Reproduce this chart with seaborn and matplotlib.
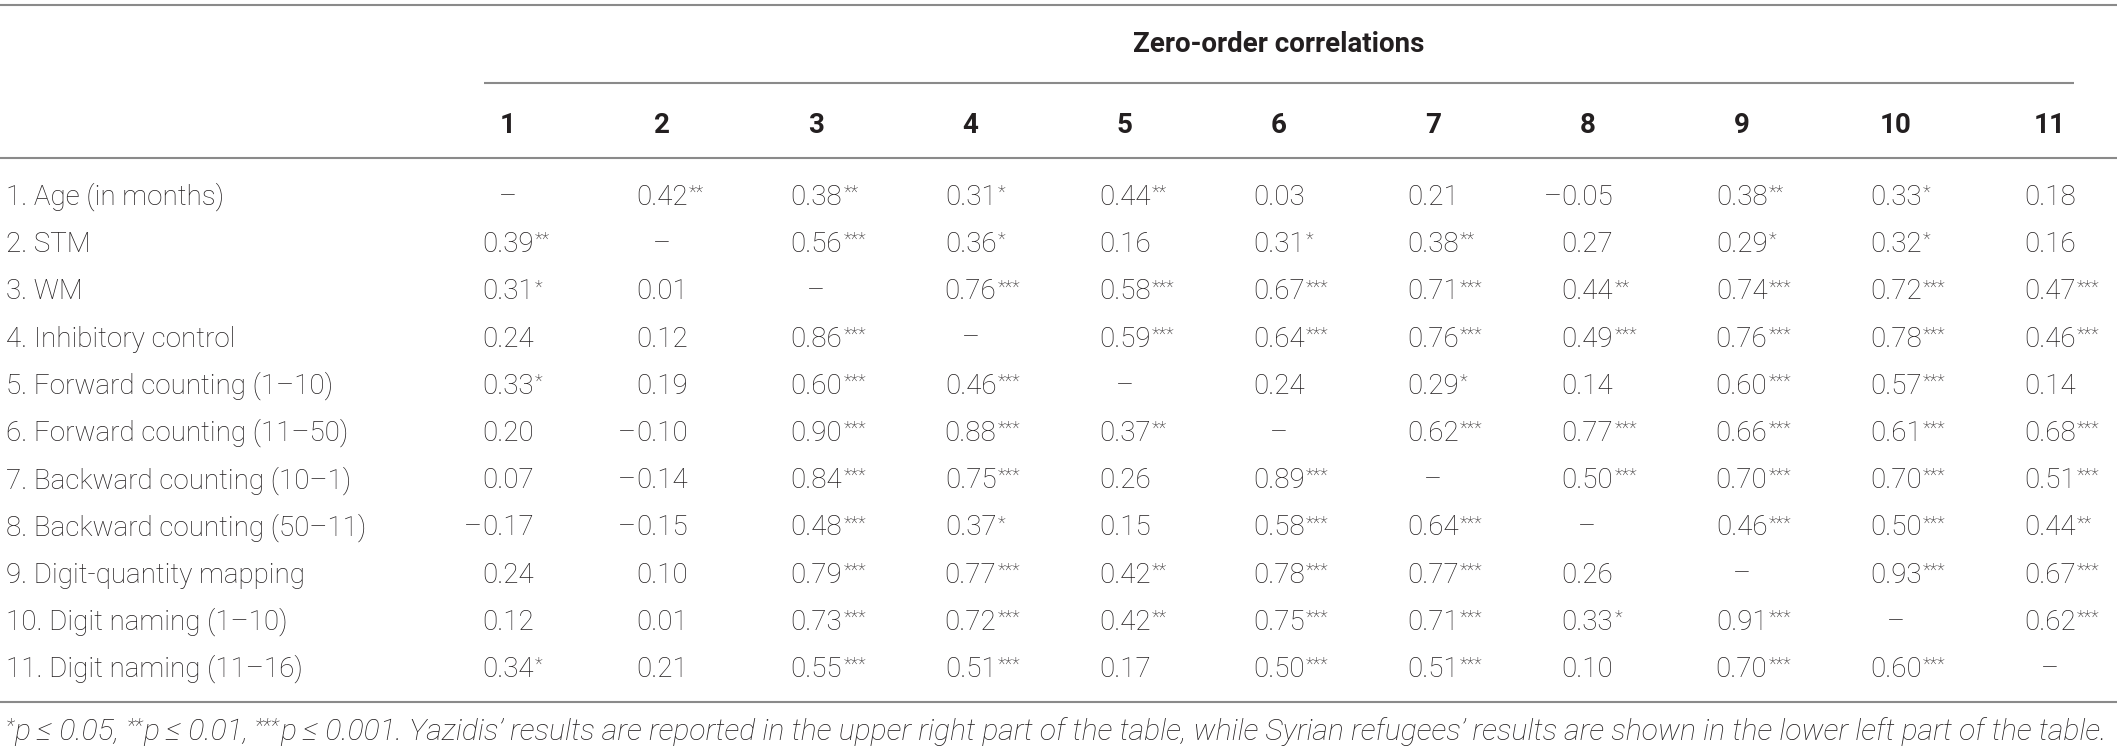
import matplotlib
matplotlib.use("Agg")
import matplotlib.pyplot as plt
import seaborn as sns

# Datos de la tabla: correlaciones de orden cero
row_labels = [
    "1. Age (in months)",
    "2. STM",
    "3. WM",
    "4. Inhibitory control",
    "5. Forward counting (1–10)",
    "6. Forward counting (11–50)",
    "7. Backward counting (10–1)",
    "8. Backward counting (50–11)",
    "9. Digit-quantity mapping",
    "10. Digit naming (1–10)",
    "11. Digit naming (11–16)",
]
col_labels = [str(i) for i in range(1, 12)]
header_title = "Zero-order correlations"

r_values = [
    [None, 0.42, 0.38, 0.31, 0.44, 0.03, 0.21, -0.05, 0.38, 0.33, 0.18],
    [0.39, None, 0.56, 0.36, 0.16, 0.31, 0.38, 0.27, 0.29, 0.32, 0.16],
    [0.31, 0.01, None, 0.76, 0.58, 0.67, 0.71, 0.44, 0.74, 0.72, 0.47],
    [0.24, 0.12, 0.86, None, 0.59, 0.64, 0.76, 0.49, 0.76, 0.78, 0.46],
    [0.33, 0.19, 0.60, 0.46, None, 0.24, 0.29, 0.14, 0.60, 0.57, 0.14],
    [0.20, -0.10, 0.90, 0.88, 0.37, None, 0.62, 0.77, 0.66, 0.61, 0.68],
    [0.07, -0.14, 0.84, 0.75, 0.26, 0.89, None, 0.50, 0.70, 0.70, 0.51],
    [-0.17, -0.15, 0.48, 0.37, 0.15, 0.58, 0.64, None, 0.46, 0.50, 0.44],
    [0.24, 0.10, 0.79, 0.77, 0.42, 0.78, 0.77, 0.26, None, 0.93, 0.67],
    [0.12, 0.01, 0.73, 0.72, 0.42, 0.75, 0.71, 0.33, 0.91, None, 0.62],
    [0.34, 0.21, 0.55, 0.51, 0.17, 0.50, 0.51, 0.10, 0.70, 0.60, None],
]
# numero de asteriscos (nivel de significancia)
sig_stars = [
    [0, 2, 2, 1, 2, 0, 0, 0, 2, 1, 0],
    [2, 0, 3, 1, 0, 1, 2, 0, 1, 1, 0],
    [1, 0, 0, 3, 3, 3, 3, 2, 3, 3, 3],
    [0, 0, 3, 0, 3, 3, 3, 3, 3, 3, 3],
    [1, 0, 3, 3, 0, 0, 1, 0, 3, 3, 0],
    [0, 0, 3, 3, 2, 0, 3, 3, 3, 3, 3],
    [0, 0, 3, 3, 0, 3, 0, 3, 3, 3, 3],
    [0, 0, 3, 1, 0, 3, 3, 0, 3, 3, 2],
    [0, 0, 3, 3, 2, 3, 3, 0, 0, 3, 3],
    [0, 0, 3, 3, 2, 3, 3, 1, 3, 0, 3],
    [1, 0, 3, 3, 0, 3, 3, 0, 3, 3, 0],
]
footnote_parts = [
    ("*", True), ("p ≤ 0.05, ", False),
    ("**", True), ("p ≤ 0.01, ", False),
    ("***", True),
    ("p ≤ 0.001. Yazidis’ results are reported in the upper right part of the table, "
     "while Syrian refugees’ results are shown in the lower left part of the table.", False),
]

sns.set_theme(style="white")
plt.rcParams["font.family"] = ["Roboto", "DejaVu Sans"]

W, H = 2117, 751
fig = plt.figure(figsize=(W / 100, H / 100), dpi=100)
ax = fig.add_axes([0, 0, 1, 1])
ax.set_xlim(0, W)
ax.set_ylim(H, 0)
ax.axis("off")
renderer = fig.canvas.get_renderer()

TXT = "#231f20"
LINE = "#8a8a8a"
FS = 20
col_x0, col_dx = 508, 154.2
col_x = [col_x0 + i * col_dx for i in range(len(col_labels))]
row_y0, row_dy = 205, 47.2

# lineas horizontales
ax.hlines([5, 158, 702], 0, W, color=LINE, lw=1.5)
ax.hlines(83, 484, 2074, color=LINE, lw=1.5)

# encabezados
ax.text((col_x[0] + col_x[-1]) / 2, 52, header_title, ha="center", va="baseline",
        fontsize=FS, fontweight="bold", color=TXT)
for x, lab in zip(col_x, col_labels):
    ax.text(x, 133, lab, ha="center", va="baseline", fontsize=FS,
            fontweight="bold", color=TXT)

# ancho de "0.00" para alinear signo y asteriscos
probe = ax.text(0, 0, "0.00", fontsize=FS, fontweight="light")
half_w = probe.get_window_extent(renderer).width / 2
probe.remove()

for i, lab in enumerate(row_labels):
    y = row_y0 + i * row_dy
    ax.text(6, y, lab, ha="left", va="baseline", fontsize=FS,
            fontweight="light", color=TXT)
    for j, v in enumerate(r_values[i]):
        x = col_x[j]
        if v is None:
            ax.text(x, y, "–", ha="center", va="baseline", fontsize=FS,
                    fontweight="light", color=TXT)
            continue
        ax.text(x, y, f"{abs(v):.2f}", ha="center", va="baseline", fontsize=FS,
                fontweight="light", color=TXT)
        if v < 0:
            ax.text(x - half_w, y, "–", ha="right", va="baseline", fontsize=FS,
                    fontweight="light", color=TXT)
        if sig_stars[i][j]:
            ax.text(x + half_w + 1, y - 7, "*" * sig_stars[i][j], ha="left",
                    va="baseline", fontsize=13, fontweight="light", color=TXT)


# nota al pie en piezas (asteriscos en superindice)
def draw_footnote(fs, x0=6, y0=740):
    fx = x0
    items = []
    for txt, sup in footnote_parts:
        if sup:
            t = ax.text(fx, y0 - fs * 0.35, txt, ha="left", va="baseline",
                        fontsize=fs * 0.68, style="italic", fontweight="light",
                        color=TXT)
        else:
            t = ax.text(fx, y0, txt, ha="left", va="baseline", fontsize=fs,
                        style="italic", fontweight="light", color=TXT)
        fx += t.get_window_extent(renderer).width
        items.append(t)
    return items, fx - x0


items, width = draw_footnote(16)
for t in items:
    t.remove()
draw_footnote(16 * 2100 / width)

fig.savefig("out.png", dpi=100, facecolor="white")
plt.close(fig)
